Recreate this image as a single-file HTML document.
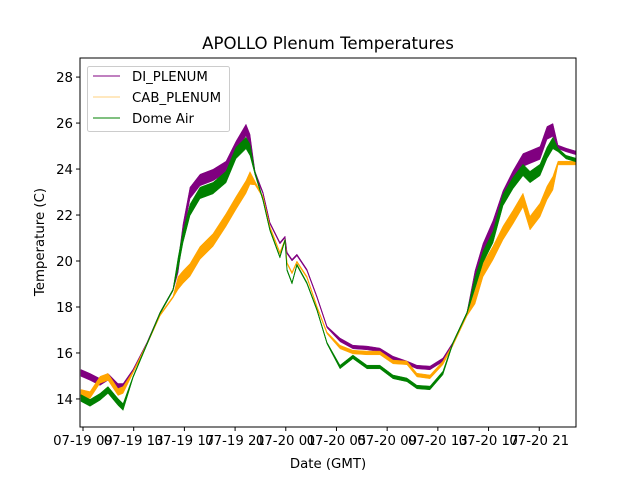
<!DOCTYPE html>
<html><head><meta charset="utf-8"><style>
body{margin:0;background:#fff;}
svg{display:block;font-family:"DejaVu Sans","Liberation Sans",sans-serif;}
</style></head><body>
<svg id="chart" width="640" height="480" viewBox="0 0 640 480" xmlns="http://www.w3.org/2000/svg">
<rect width="640" height="480" fill="#fff"/>
<text x="328" y="49" font-size="16.6" text-anchor="middle">APOLLO Plenum Temperatures</text>
<g id="plot"></g>
<text x="328" y="468" font-size="13.3" text-anchor="middle">Date (GMT)</text>
<text transform="translate(44,242) rotate(-90)" font-size="13.3" text-anchor="middle">Temperature (C)</text>
</svg>
<script>
const hours = [-0.16,0.55,1.34,1.97,2.76,3.16,3.95,5.05,6.08,7.10,7.50,7.89,8.44,9.23,10.26,11.28,12.07,12.86,13.18,13.57,14.20,14.75,15.54,15.94,16.10,16.49,16.88,17.67,18.46,19.25,20.28,21.30,22.41,23.43,24.46,25.56,26.35,27.38,28.40,29.19,30.30,30.93,31.56,32.35,33.14,33.93,34.72,35.27,36.06,36.61,37.08,37.48,38.11,38.90];
const diPlenum = [15.13,14.96,14.74,14.96,14.52,14.52,15.26,16.43,17.74,18.74,19.74,21.35,22.96,23.52,23.74,24.09,24.96,25.70,25.26,23.83,22.96,21.65,20.78,21.04,20.35,20.04,20.26,19.61,18.43,17.13,16.57,16.26,16.22,16.13,15.78,15.57,15.39,15.35,15.70,16.43,17.74,19.30,20.48,21.48,22.78,23.65,24.39,24.52,24.70,25.57,25.70,24.96,24.83,24.70];
const cabPlenum = [14.26,14.17,14.83,14.96,14.30,14.39,15.17,16.39,17.65,18.43,19.04,19.30,19.61,20.35,20.91,21.78,22.52,23.22,23.61,23.39,22.78,21.48,20.35,20.91,19.91,19.48,19.96,19.30,18.00,16.87,16.26,16.04,16.00,16.00,15.61,15.57,15.04,14.96,15.57,16.35,17.65,18.43,19.61,20.35,21.22,21.91,22.65,21.65,22.22,22.96,23.39,24.26,24.26,24.26];
const domeAir = [14.04,13.83,14.09,14.39,13.87,13.65,14.96,16.39,17.74,18.74,19.91,21.04,22.22,22.96,23.17,23.65,24.70,25.13,24.83,23.83,22.65,21.35,20.17,20.91,19.61,19.04,19.83,19.04,17.87,16.43,15.39,15.83,15.39,15.39,14.96,14.83,14.52,14.48,15.13,16.43,17.74,19.04,20.17,21.04,22.65,23.39,23.96,23.65,23.96,24.70,25.13,24.83,24.52,24.39];
const diNoise = [0.15,0.15,0.15,0.15,0.15,0.15,0.04,0.04,0.04,0.04,0.25,0.25,0.25,0.25,0.25,0.25,0.25,0.25,0.25,0.08,0.04,0.04,0.04,0.04,0.04,0.04,0.04,0.04,0.04,0.04,0.08,0.08,0.08,0.08,0.08,0.08,0.08,0.08,0.08,0.04,0.04,0.28,0.28,0.28,0.28,0.28,0.28,0.28,0.28,0.28,0.28,0.08,0.08,0.08];
const cabNoise = [0.15,0.15,0.15,0.15,0.15,0.15,0.04,0.04,0.04,0.04,0.28,0.28,0.28,0.28,0.28,0.28,0.28,0.28,0.28,0.08,0.04,0.04,0.04,0.04,0.04,0.04,0.04,0.04,0.04,0.04,0.08,0.08,0.08,0.08,0.08,0.08,0.08,0.08,0.08,0.04,0.04,0.3,0.3,0.3,0.3,0.3,0.3,0.3,0.3,0.3,0.3,0.08,0.08,0.08];
const domeNoise = [0.15,0.15,0.15,0.15,0.15,0.15,0.04,0.04,0.04,0.04,0.25,0.25,0.25,0.25,0.25,0.25,0.25,0.25,0.25,0.08,0.04,0.04,0.04,0.04,0.04,0.04,0.04,0.04,0.04,0.04,0.08,0.08,0.08,0.08,0.08,0.08,0.08,0.08,0.08,0.04,0.04,0.25,0.25,0.25,0.25,0.25,0.25,0.25,0.25,0.25,0.25,0.08,0.08,0.08];
const xTickHours = [0,4,8,12,16,20,24,28,32,36];
const xTickLabels = ["07-19 09","07-19 13","07-19 17","07-19 21","07-20 01","07-20 05","07-20 09","07-20 13","07-20 17","07-20 21"];
const yTicks = [14,16,18,20,22,24,26,28];

const L=80,R=576,T=58,B=427;
const xMin=-0.237, xMax=38.9;
const yMin=12.78, yMax=28.83;
const xs = h => L + (h - xMin) / (xMax - xMin) * (R - L);
const ys = v => B - (v - yMin) / (yMax - yMin) * (B - T);
const NS="http://www.w3.org/2000/svg";
const plot=document.getElementById('plot');
function mk(tag, attrs, parent){const e=document.createElementNS(NS,tag);for(const k in attrs)e.setAttribute(k,attrs[k]);(parent||plot).appendChild(e);return e;}

const clip=mk('clipPath',{id:'clip'});
mk('rect',{x:L,y:T,width:R-L,height:B-T},clip);
const g=mk('g',{'clip-path':'url(#clip)'});

const series=[
 {name:'di-plenum', vals:diPlenum, noise:diNoise, color:'#800080'},
 {name:'cab-plenum', vals:cabPlenum, noise:cabNoise, color:'#ffa500'},
 {name:'dome-air', vals:domeAir, noise:domeNoise, color:'#008000'}
];
series.forEach(s=>{
  let up=[],dn=[],ln=[];
  hours.forEach((h,i)=>{
    up.push(xs(h).toFixed(1)+','+ys(s.vals[i]+s.noise[i]).toFixed(1));
    dn.unshift(xs(h).toFixed(1)+','+ys(s.vals[i]-s.noise[i]).toFixed(1));
    ln.push(xs(h).toFixed(1)+','+ys(s.vals[i]).toFixed(1));
  });
  const band=mk('polygon',{points:up.concat(dn).join(' '),fill:s.color,stroke:s.color,'stroke-width':0.5},g);
  
  
  const line=mk('polyline',{points:ln.join(' '),fill:'none',stroke:s.color,'stroke-width':0.9},g);
  
  
});

const frame=mk('rect',{x:L,y:T,width:R-L,height:B-T,fill:'none',stroke:'#000','stroke-width':1});



xTickHours.forEach((h,i)=>{
  const x=xs(h);
  const t=mk('line',{x1:x,x2:x,y1:B,y2:B+4,stroke:'#000','stroke-width':1});
  
  
  const tx=mk('text',{x:x,y:B+18,'font-size':13.3,'text-anchor':'middle'});
  tx.textContent=xTickLabels[i];
  
  
});
yTicks.forEach(v=>{
  const y=ys(v);
  const t=mk('line',{x1:L-4,x2:L,y1:y,y2:y,stroke:'#000','stroke-width':1});
  
  
  const tx=mk('text',{x:L-7,y:y+5,'font-size':13.3,'text-anchor':'end'});
  tx.textContent=v;
  
  
});

const lg=mk('g',{});


mk('rect',{x:87.5,y:66.5,width:142,height:65,rx:2,fill:'#fff','fill-opacity':0.8,stroke:'#ccc','stroke-width':1},lg);
const names=['DI_PLENUM','CAB_PLENUM','Dome Air'];
series.forEach((s,i)=>{
  const y=76+i*21;
  const e=mk('g',{},lg);
  
  
  mk('line',{x1:93,x2:120,y1:y,y2:y,stroke:s.color,'stroke-width':s.name==='cab-plenum'?0.6:0.9},e);
  const tx=mk('text',{x:132,y:y+5,'font-size':13.3},e);
  tx.textContent=names[i];
});
</script>
</body></html>
